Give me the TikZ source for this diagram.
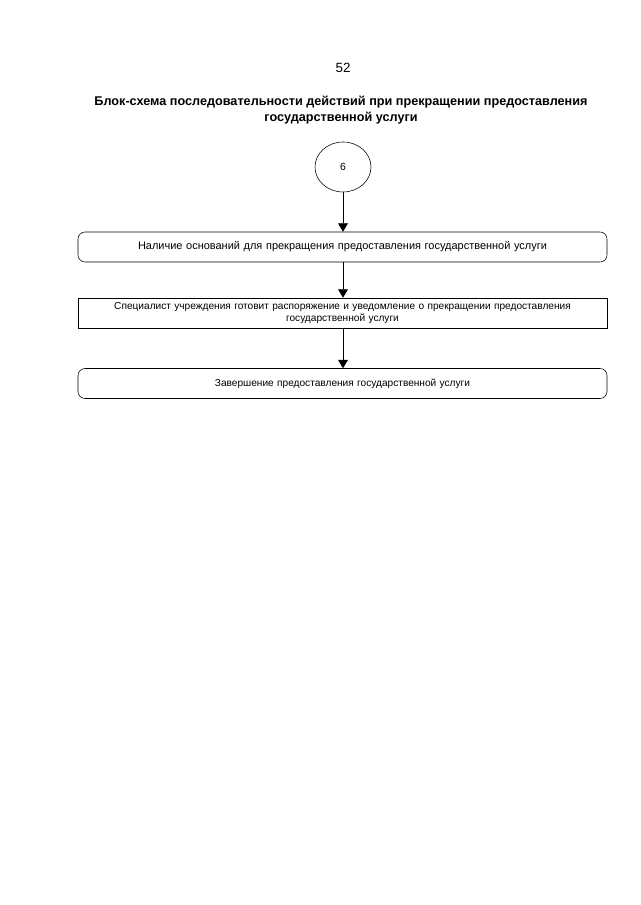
\documentclass[tikz,border=0pt]{standalone}
\usepackage{fontspec}
\setmainfont{Liberation Sans}
\usetikzlibrary{arrows.meta,shapes.geometric}

\tikzset{
  stepbox/.style={draw,minimum width=529*0.025cm,minimum height=30*0.025cm,
    align=center,text width=500*0.025cm,inner sep=1pt,font=\fontsize{7.2}{9}\selectfont},
  roundbox/.style={stepbox,rounded corners=5pt},
  flow/.style={-{Triangle[width=7pt,length=6pt]},semithick}
}

\begin{document}
\begin{tikzpicture}[x=0.025cm,y=-0.025cm]
  \useasboundingbox (0,0) rectangle (640,905);
  % header
  \node (pagenum) at (343,68) {\fontsize{9.5}{11}\selectfont 52};
  \node[align=center,font=\bfseries\fontsize{9}{11}\selectfont] (title) at (341,110)
    {Блок-схема последовательности действий при прекращении предоставления\\
     государственной услуги};
  % connector
  \node[draw,ellipse,minimum width=56*0.025cm,minimum height=50*0.025cm,
    inner sep=0pt,font=\fontsize{7.4}{9}\selectfont] (start) at (343,167) {6};
  % steps
  \node[roundbox,font=\fontsize{7.8}{9}\selectfont] (grounds) at (342.5,247)
    {Наличие оснований для прекращения предоставления государственной услуги};
  \node[stepbox] (prepare) at (342.5,313)
    {Специалист учреждения готовит распоряжение и уведомление о прекращении предоставления\\
     государственной услуги};
  \node[roundbox] (finish) at (342.5,383.5)
    {Завершение предоставления государственной услуги};
  % arrows
  \draw[flow] (start) -- (start |- grounds.north);
  \draw[flow] (start |- grounds.south) -- (start |- prepare.north);
  \draw[flow] (start |- prepare.south) -- (start |- finish.north);
\end{tikzpicture}
\end{document}
